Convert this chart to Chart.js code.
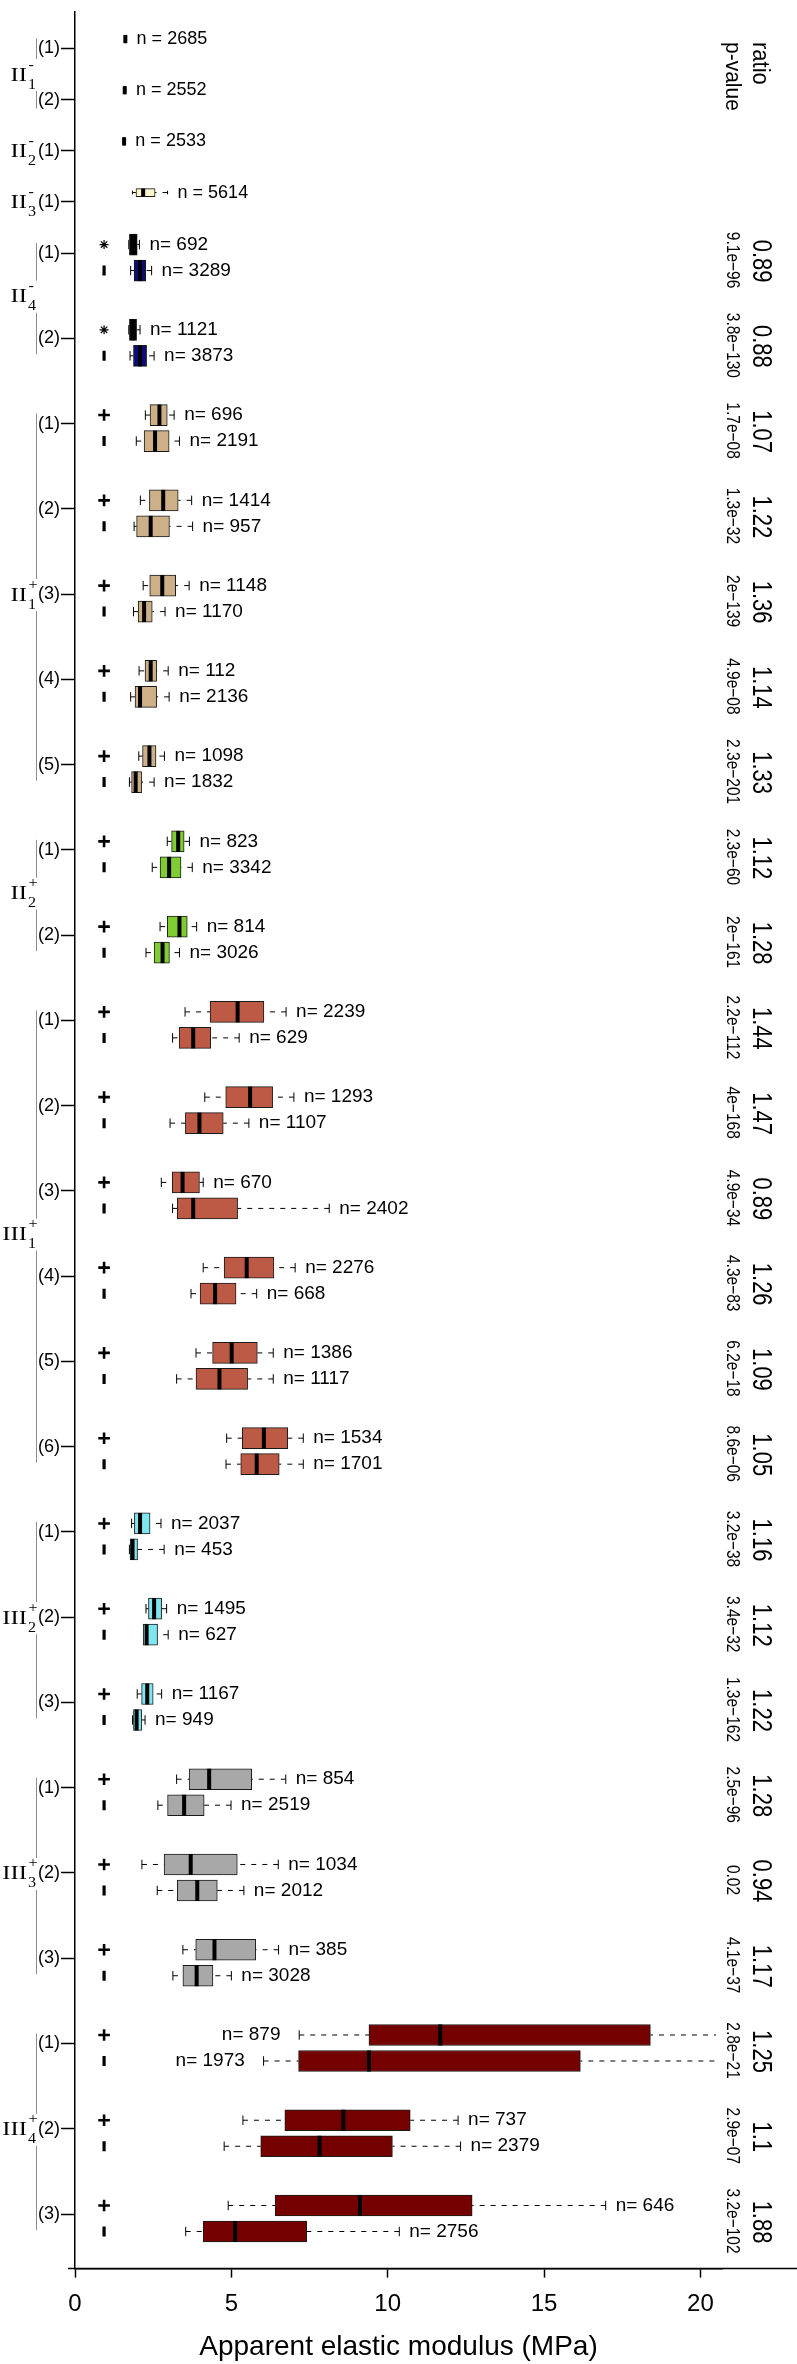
<!DOCTYPE html>
<html>
<head>
<meta charset="utf-8">
<title>Apparent elastic modulus</title>
<script src="https://cdn.jsdelivr.net/npm/chart.js@4.4.1/dist/chart.umd.min.js"></script>
<style>
  html, body { margin: 0; padding: 0; background: #fff; }
  #wrap { width: 797px; height: 2364px; position: relative; }
</style>
</head>
<body>
<div id="wrap"><canvas id="chart"></canvas></div>
<script>
/* classes along the vertical axis, top to bottom */
const classNames  = ["II", "II", "II", "II", "II", "II", "III", "III", "III", "III"];
const classSubs   = ["1", "2", "3", "4", "1", "2", "1", "2", "3", "4"];
const classSigns  = ["-", "-", "-", "-", "+", "+", "+", "+", "+", "+"];
const classSizes  = [2, 1, 1, 2, 5, 2, 6, 3, 3, 3];
const classPaired = [false, false, false, true, true, true, true, true, true, true];
const classUpperMark = ["", "", "", "*", "+", "+", "+", "+", "+", "+"];

/* box statistics, one entry per box, top to bottom (MPa) */
const whiskerLow = [
  1.57, 1.55, 1.53, 1.84,
  1.72, 1.78, 1.72, 1.76,
  2.25, 1.96, 2.09, 1.89, 2.18, 1.87, 2.05, 1.78, 2.04, 1.74,
  2.95, 2.47, 2.72, 2.27,
  3.52, 3.12, 4.15, 3.04, 2.76, 3.12, 4.10, 3.71, 3.87, 3.25, 4.85, 4.83,
  1.81, 1.74, 2.27, 2.18, 1.99, 1.84,
  3.25, 2.65, 2.14, 2.63, 3.45, 3.13,
  7.17, 6.03, 5.37, 4.77, 4.90, 3.54
];
const quart1 = [
  1.57, 1.55, 1.53, 1.95,
  1.74, 1.89, 1.74, 1.87,
  2.40, 2.21, 2.38, 1.97, 2.39, 2.02, 2.24, 1.92, 2.16, 1.81,
  3.09, 2.72, 2.95, 2.53,
  4.32, 3.33, 4.82, 3.53, 3.11, 3.27, 4.77, 4.00, 4.40, 3.87, 5.35, 5.30,
  1.90, 1.76, 2.35, 2.18, 2.13, 1.87,
  3.65, 2.96, 2.85, 3.27, 3.86, 3.45,
  9.40, 7.15, 6.71, 5.94, 6.40, 4.10
];
const medians = [
  1.61, 1.59, 1.57, 2.18,
  1.87, 2.08, 1.85, 2.08,
  2.70, 2.56, 2.82, 2.42, 2.79, 2.21, 2.42, 2.08, 2.38, 1.94,
  3.30, 3.01, 3.34, 2.80,
  5.20, 3.78, 5.60, 3.98, 3.44, 3.78, 5.49, 4.48, 5.01, 4.62, 6.04, 5.81,
  2.08, 1.84, 2.53, 2.29, 2.31, 1.97,
  4.29, 3.49, 3.70, 3.91, 4.46, 3.89,
  11.68, 9.40, 8.58, 7.82, 9.11, 5.12
];
const quart3 = [
  1.65, 1.63, 1.61, 2.56,
  1.99, 2.26, 1.97, 2.29,
  2.95, 3.01, 3.30, 3.02, 3.22, 2.47, 2.61, 2.61, 2.59, 2.13,
  3.49, 3.39, 3.59, 3.02,
  6.04, 4.34, 6.32, 4.74, 3.98, 5.20, 6.36, 5.15, 5.83, 5.52, 6.80, 6.53,
  2.40, 2.00, 2.77, 2.64, 2.50, 2.13,
  5.65, 4.13, 5.19, 4.55, 5.78, 4.41,
  18.40, 16.16, 10.72, 10.15, 12.70, 7.41
];
const whiskerHigh = [
  1.65, 1.63, 1.61, 2.96,
  2.06, 2.45, 2.08, 2.53,
  3.17, 3.34, 3.73, 3.76, 3.65, 2.88, 2.98, 3.01, 2.86, 2.53,
  3.66, 3.75, 3.89, 3.34,
  6.75, 5.25, 7.00, 5.56, 4.10, 8.13, 7.04, 5.81, 6.34, 6.34, 7.30, 7.30,
  2.75, 2.85, 2.93, 2.98, 2.77, 2.24,
  6.74, 4.99, 6.50, 5.40, 6.51, 5.00,
  22.0, 21.5, 12.25, 12.33, 16.97, 10.37
];
const nObs = [
  2685, 2552, 2533, 5614,
  692, 3289, 1121, 3873,
  696, 2191, 1414, 957, 1148, 1170, 112, 2136, 1098, 1832,
  823, 3342, 814, 3026,
  2239, 629, 1293, 1107, 670, 2402, 2276, 668, 1386, 1117, 1534, 1701,
  2037, 453, 1495, 627, 1167, 949,
  854, 2519, 1034, 2012, 385, 3028,
  879, 1973, 737, 2379, 646, 2756
];

/* one ratio / p-value per paired sub-group */
const ratios = ["0.89", "0.88", "1.07", "1.22", "1.36", "1.14", "1.33", "1.12", "1.28",
  "1.44", "1.47", "0.89", "1.26", "1.09", "1.05", "1.16", "1.12", "1.22",
  "1.28", "0.94", "1.17", "1.25", "1.1", "1.88"];
const pValues = ["9.1e\u221296", "3.8e\u2212130", "1.7e\u221208", "1.3e\u221232", "2e\u2212139",
  "4.9e\u221208", "2.3e\u2212201", "2.3e\u221260", "2e\u2212161", "2.2e\u2212112", "4e\u2212168",
  "4.9e\u221234", "4.3e\u221283", "6.2e\u221218", "8.6e\u221206", "3.2e\u221238", "3.4e\u221232",
  "1.3e\u2212162", "2.5e\u221296", "0.02", "4.1e\u221237", "2.8e\u221221", "2.9e\u221207", "3.2e\u2212102"];

const xTicks = [0, 5, 10, 15, 20];
const xTitle = "Apparent elastic modulus (MPa)";
const plotLimit = 20.5;   // right end of the plotting region (xlim)
const markerAt = 0.93;    // x of the +, * and | symbols

/* styles */
const classFill = ["#000000", "#000000", "#fff5cc", "#0b0b7a", "#cdb088",
  "#7fcc33", "#bd5a45", "#7ee6ee", "#a8a8a8", "#740000"];
const upperFill = { 3: "#000000" };

Chart.defaults.font.family = "'Liberation Sans', Arial, sans-serif";
Chart.defaults.color = "#000";

/* ---- layout of the rows ---- */
const groups = [];
classSizes.forEach((size, c) => {
  for (let i = 0; i < size; i++) groups.push({ cls: c, item: i + 1, paired: classPaired[c] });
});
const groupPos = [];
groups.forEach((g, i) => {
  groupPos.push(i === 0 ? 0 : groupPos[i - 1] + (groups[i - 1].paired ? 1 : 0.6));
});
const itemLabels = groups.map(g => "(" + g.item + ")");

const rows = [];
groups.forEach((g, gi) => {
  const slots = g.paired ? ["upper", "lower"] : ["single"];
  slots.forEach(slot => {
    const k = rows.length;
    rows.push({
      group: gi, cls: g.cls, slot,
      pos: groupPos[gi] + (slot === "lower" ? 0.205 : slot === "upper" ? -0.1 : -0.11),
      lo: whiskerLow[k], q1: quart1[k], med: medians[k], q3: quart3[k], hi: whiskerHigh[k], n: nObs[k]
    });
  });
});

const pairRows = rows.filter(r => r.slot !== "single");
const singleRows = rows.filter(r => r.slot === "single");
const fillOf = r => (r.slot === "upper" && upperFill[r.cls]) || classFill[r.cls];
const isStar = r => r.slot === "upper" && classUpperMark[r.cls] === "*";

function boxDataset(list, thickness) {
  return {
    type: "bar",
    data: list.map(r => ({ x: [r.q1, r.q3], y: r.pos })),
    backgroundColor: list.map(fillOf),
    borderColor: "#1a1a1a",
    borderWidth: 1,
    borderSkipped: false,
    barThickness: thickness,
    grouped: false,
    rowInfo: list
  };
}

const markerDataset = {
  type: "scatter",
  data: pairRows.map(r => ({ x: markerAt, y: r.pos })),
  pointStyle: pairRows.map(r => r.slot === "lower" ? "line" : (isStar(r) ? "star" : "cross")),
  pointRotation: pairRows.map(r => r.slot === "lower" ? 90 : 0),
  pointRadius: pairRows.map(r => r.slot === "lower" ? 5 : (isStar(r) ? 4.5 : 5.8)),
  pointBorderWidth: pairRows.map(r => r.slot === "lower" ? 3.2 : (isStar(r) ? 1.2 : 2.6)),
  pointBorderColor: "#000",
  pointBackgroundColor: "#000",
  showLine: false
};

function drawText(ctx, txt, x, y, font, sx, sy, angle, align, baseline) {
  ctx.save();
  ctx.translate(x, y);
  ctx.rotate(angle);
  ctx.scale(sx, sy);
  ctx.font = font;
  ctx.textAlign = align;
  ctx.textBaseline = baseline;
  ctx.fillStyle = "#000";
  ctx.fillText(txt, 0, 0);
  ctx.restore();
}

/* whiskers, medians, counts, side labels */
const boxParts = {
  id: "boxParts",
  beforeDatasetsDraw(chart) {
    const { ctx, chartArea: a, scales: { x, y } } = chart;
    const clipRight = x.getPixelForValue(plotLimit);
    ctx.save();
    ctx.beginPath();
    ctx.rect(a.left, a.top, clipRight - a.left, a.bottom - a.top);
    ctx.clip();
    ctx.strokeStyle = "#000";
    ctx.lineWidth = 1;
    chart.data.datasets.forEach(ds => {
      if (!ds.rowInfo) return;
      const cap = ds.barThickness * 0.45;
      ds.rowInfo.forEach(r => {
        const py = y.getPixelForValue(r.pos);
        [[r.lo, r.q1], [r.hi, r.q3]].forEach(([end, edge]) => {
          if (end === edge) return;
          const pe = x.getPixelForValue(end), pb = x.getPixelForValue(edge);
          ctx.setLineDash([5, 6]);
          ctx.beginPath(); ctx.moveTo(pe, py); ctx.lineTo(pb, py); ctx.stroke();
          ctx.setLineDash([]);
          ctx.beginPath(); ctx.moveTo(pe, py - cap / 2); ctx.lineTo(pe, py + cap / 2); ctx.stroke();
        });
      });
    });
    ctx.restore();
  },
  afterDatasetsDraw(chart) {
    const { ctx, scales: { x, y } } = chart;
    chart.data.datasets.forEach(ds => {
      if (!ds.rowInfo) return;
      const h = ds.barThickness;
      ds.rowInfo.forEach(r => {
        const py = y.getPixelForValue(r.pos);
        const pm = x.getPixelForValue(r.med);
        ctx.save();
        ctx.strokeStyle = "#000";
        ctx.lineWidth = 4;
        ctx.beginPath(); ctx.moveTo(pm, py - h / 2); ctx.lineTo(pm, py + h / 2); ctx.stroke();
        ctx.restore();
        const single = r.slot === "single";
        const label = (single ? "n = " : "n= ") + r.n;
        const font = (single ? 18 : 19) + "px 'Liberation Sans', Arial, sans-serif";
        if (r.hi > plotLimit) {
          drawText(ctx, label, x.getPixelForValue(r.lo - 0.6), py, font, 1, 1, 0, "right", "middle");
        } else {
          drawText(ctx, label, x.getPixelForValue(r.hi + 0.32), py, font, 1, 1, 0, "left", "middle");
        }
      });
    });
  },
  afterDraw(chart) {
    const { ctx, chartArea: a, scales: { x, y } } = chart;

    // x axis line runs on past the plot
    ctx.save();
    ctx.strokeStyle = "#000";
    ctx.lineWidth = 1.5;
    ctx.beginPath(); ctx.moveTo(a.left - 7, a.bottom); ctx.lineTo(chart.width, a.bottom); ctx.stroke();
    ctx.restore();

    // class labels with brackets
    let gi = 0;
    classSizes.forEach((size, c) => {
      const first = y.getPixelForValue(groupPos[gi]);
      const last = y.getPixelForValue(groupPos[gi + size - 1]);
      const anchor = (first + last) / 2;
      const serif = "'Liberation Serif', 'Times New Roman', serif";
      drawText(ctx, classNames[c], a.left - 48, anchor + 6.5, "19px " + serif, 1.3, 1, 0, "right", "alphabetic");
      drawText(ctx, classSubs[c], a.left - 47, anchor + 14.5, "14px " + serif, 1.15, 1, 0, "left", "alphabetic");
      drawText(ctx, classSigns[c], a.left - 46.5, anchor - 5.5, "14px " + serif, 1.15, 1, 0, "left", "alphabetic");
      if (size > 1) {
        const bx = a.left - 38.5;
        const top = first - 10, bottom = last + (classPaired[c] ? 16 : 9);
        ctx.save();
        ctx.strokeStyle = "#8c8c8c";
        ctx.lineWidth = 1;
        ctx.beginPath();
        ctx.moveTo(bx, top); ctx.lineTo(bx, anchor - 15);
        ctx.moveTo(bx, anchor + 17); ctx.lineTo(bx, bottom);
        ctx.stroke();
        ctx.restore();
      }
      gi += size;
    });

    // ratio and p-value columns
    const ratioX = x.getPixelForValue(21.68);
    const pX = x.getPixelForValue(20.85);
    drawText(ctx, "ratio", ratioX, 42, "22px 'Liberation Sans', Arial, sans-serif", 1, 1.05, Math.PI / 2, "left", "alphabetic");
    drawText(ctx, "p-value", pX - 1, 42, "21px 'Liberation Sans', Arial, sans-serif", 1, 1.05, Math.PI / 2, "left", "alphabetic");
    let j = 0;
    groups.forEach((g, i) => {
      if (!g.paired) return;
      const py = y.getPixelForValue(groupPos[i]) + 8;
      drawText(ctx, ratios[j], ratioX, py, "22px 'Liberation Sans', Arial, sans-serif", 1, 1.27, Math.PI / 2, "center", "alphabetic");
      drawText(ctx, pValues[j], pX, py - 1, "15.5px 'Liberation Sans', Arial, sans-serif", 1, 1.2, Math.PI / 2, "center", "alphabetic");
      j++;
    });
  }
};

new Chart(document.getElementById("chart"), {
  type: "bar",
  data: { datasets: [boxDataset(pairRows, 21), boxDataset(singleRows, 8), markerDataset] },
  options: {
    indexAxis: "y",
    responsive: true,
    maintainAspectRatio: false,
    animation: false,
    events: [],
    layout: { padding: { top: 5, right: 75, bottom: 0, left: 0 } },
    plugins: { legend: { display: false }, tooltip: { enabled: false } },
    scales: {
      x: {
        type: "linear",
        min: 0,
        max: 20.69,
        bounds: "data",
        afterBuildTicks: scale => { scale.ticks = xTicks.map(v => ({ value: v })); },
        ticks: { font: { size: 24 }, color: "#000", padding: 12, maxRotation: 0, autoSkip: false },
        grid: { drawOnChartArea: false, drawTicks: true, tickLength: 9, tickColor: "#000", tickWidth: 1.5 },
        border: { display: true, color: "#000", width: 1.5 },
        title: { display: true, text: xTitle, font: { size: 28 }, color: "#000", padding: { top: 0, bottom: 0 } }
      },
      y: {
        type: "linear",
        reverse: true,
        min: -0.43,
        max: 26.04,
        bounds: "data",
        offset: false,
        afterBuildTicks: scale => { scale.ticks = groupPos.map(v => ({ value: v })); },
        afterFit: scale => { scale.width = 75; },
        ticks: { autoSkip: false, callback: (v, i) => itemLabels[i], font: { size: 18 }, color: "#000", padding: 1 },
        grid: { offset: false, drawOnChartArea: false, drawTicks: true, tickLength: 14, tickColor: "#000", tickWidth: 1.5 },
        border: { display: true, color: "#000", width: 1.5 }
      }
    }
  },
  plugins: [boxParts]
});
</script>
</body>
</html>
